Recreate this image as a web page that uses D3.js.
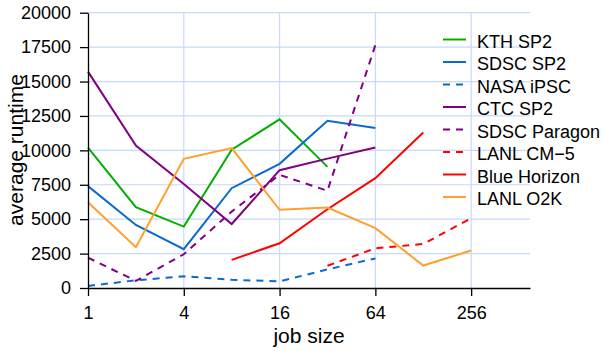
<!DOCTYPE html>
<html>
<head>
<meta charset="utf-8">
<script src="https://cdn.jsdelivr.net/npm/d3@7"></script>
<style>
  body { margin: 0; background: #fff; }
  svg { font-family: "Liberation Sans", Arial, sans-serif; }
</style>
</head>
<body>
<svg id="chart" width="602" height="351"></svg>
<script>
// job sizes (powers of two)
var sizes = [1, 2, 4, 8, 16, 32, 64, 128, 256];
var xTicks = [1, 4, 16, 64, 256];
var yTicks = [0, 2500, 5000, 7500, 10000, 12500, 15000, 17500, 20000];

// average runtime per job size, null = no data
var kthSP2       = [10200, 5870, 4460, 10050, 12250, 8800, null, null, null];
var sdscSP2      = [7400, 4580, 2820, 7250, 9020, 12150, 11620, null, null];
var nasaIPSC     = [150, 560, 850, 600, 480, 1350, 2150, null, null];
var ctcSP2       = [15720, 10350, 7550, 4650, 8560, 9400, 10200, null, null];
var sdscParagon  = [2200, 520, 2450, 5550, 8220, 7060, 17650, null, null];
var lanlCM5      = [null, null, null, null, null, 1620, 2880, 3200, 5070];
var blueHorizon  = [null, null, null, 2040, 3250, 5720, 7980, 11300, null];
var lanlO2K      = [6230, 2960, 9380, 10160, 5680, 5840, 4350, 1630, 2720];

var series = [
  {name: 'KTH SP2',      values: kthSP2,      color: '#00b000', dash: null},
  {name: 'SDSC SP2',     values: sdscSP2,     color: '#0a6ad0', dash: null},
  {name: 'NASA iPSC',    values: nasaIPSC,    color: '#0a6ad0', dash: '7,6'},
  {name: 'CTC SP2',      values: ctcSP2,      color: '#800080', dash: null},
  {name: 'SDSC Paragon', values: sdscParagon, color: '#800080', dash: '7,6'},
  {name: 'LANL CM\u22125', values: lanlCM5,   color: '#ff0000', dash: '7,6'},
  {name: 'Blue Horizon', values: blueHorizon, color: '#ff0000', dash: null},
  {name: 'LANL O2K',     values: lanlO2K,     color: '#ffa02a', dash: null}
];

var svg = d3.select('#chart');
var plot_left = 88, plot_right = 530, plot_top = 12.7, plot_bottom = 288;
var grid_color = '#c8d9fa';

var x = d3.scaleLog().base(2).domain([1, 600]).range([plot_left, plot_right]);
var y = d3.scaleLinear().domain([0, 20000]).range([plot_bottom, plot_top]);

// grid
var grid = svg.append('g').classed('grid', true);
grid.selectAll('line.h')
  .data(yTicks.slice(1))
  .enter()
  .append('line')
  .attr('x1', plot_left).attr('x2', plot_right)
  .attr('y1', d => y(d)).attr('y2', d => y(d))
  .attr('stroke', grid_color).attr('stroke-width', 1.2);
grid.selectAll('line.v')
  .data(xTicks.slice(1))
  .enter()
  .append('line')
  .attr('x1', d => x(d)).attr('x2', d => x(d))
  .attr('y1', plot_top).attr('y2', plot_bottom)
  .attr('stroke', grid_color).attr('stroke-width', 1.2);

// series lines
var line = d3.line()
  .defined(d => d[1] !== null)
  .x(d => x(d[0]))
  .y(d => y(d[1]));

svg.append('g')
  .selectAll('path')
  .data(series)
  .enter()
  .append('path')
  .attr('d', s => line(sizes.map((v, i) => [v, s.values[i]])))
  .attr('fill', 'none')
  .attr('stroke', s => s.color)
  .attr('stroke-width', 2)
  .attr('stroke-dasharray', s => s.dash);

// axes
var xAxis = d3.axisBottom(x)
  .tickValues(xTicks)
  .tickFormat(d3.format('d'))
  .tickSizeInner(8).tickSizeOuter(0).tickPadding(10);
var yAxis = d3.axisLeft(y)
  .tickValues(yTicks)
  .tickFormat(d3.format('d'))
  .tickSizeInner(8).tickSizeOuter(0).tickPadding(9);

var gx = svg.append('g')
  .attr('transform', 'translate(0,' + plot_bottom + ')')
  .call(xAxis);
var gy = svg.append('g')
  .attr('transform', 'translate(' + plot_left + ',0)')
  .call(yAxis);

[gx, gy].forEach(function(g){
  g.select('.domain').attr('stroke', '#000').attr('stroke-width', 1.3);
  g.selectAll('.tick line').attr('stroke', '#000').attr('stroke-width', 1.3);
  g.selectAll('.tick text')
    .style('font-family', '"Liberation Sans", Arial, sans-serif')
    .style('font-size', '18px')
    .attr('fill', '#000');
});

// axis titles
svg.append('text')
  .attr('x', (plot_left + plot_right) / 2)
  .attr('y', 343)
  .attr('text-anchor', 'middle')
  .style('font-size', '21px')
  .text('job size');

svg.append('text')
  .attr('transform', 'translate(23,150) rotate(-90)')
  .attr('text-anchor', 'middle')
  .style('font-size', '21px')
  .text('average runtime');

// legend
var legend = svg.append('g').classed('legend', true);
var rows = legend.selectAll('g')
  .data(series)
  .enter()
  .append('g')
  .attr('transform', (d, i) => 'translate(0,' + (39.5 + 22.5 * i) + ')');
rows.append('line')
  .attr('x1', 443).attr('x2', 466)
  .attr('y1', 0).attr('y2', 0)
  .attr('stroke', d => d.color)
  .attr('stroke-width', 2)
  .attr('stroke-dasharray', d => d.dash);
rows.append('text')
  .attr('x', 477)
  .attr('y', 8)
  .style('font-size', '18px')
  .text(d => d.name);
</script>
</body>
</html>
